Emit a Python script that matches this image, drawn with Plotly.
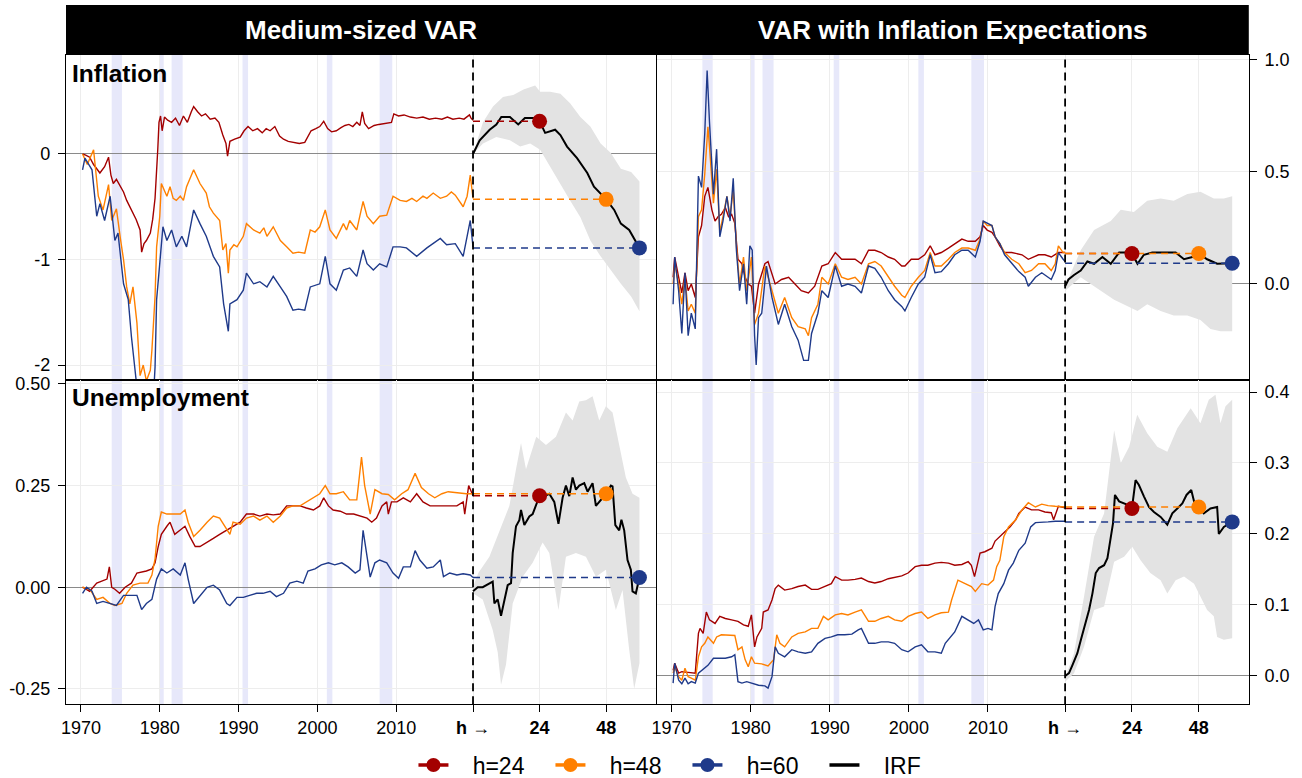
import plotly.graph_objects as go

# ---------------- axis mapping constants ----------------
T0 = 2019.75   # x position of horizon 0 (end of sample)
HS = 0.352     # x units per horizon step

# ---------------- data ----------------
RECESSIONS = [(1973.9, 1975.2), (1980.0, 1980.5), (1981.5, 1982.9),
              (1990.5, 1991.2), (2001.2, 2001.9), (2007.9, 2009.5)]

# Inflation, Medium-sized VAR  (year, value)
INF_MED_H24 = [(1970.2,0.0),(1970.6,-0.01),(1971.1,-0.03),(1971.6,-0.10),(1972.0,-0.14),(1972.4,-0.18),(1973.0,-0.12),(1973.5,-0.03),(1973.8,-0.20),(1974.1,-0.28),(1974.5,-0.24),(1974.9,-0.29),(1975.4,-0.36),(1975.8,-0.44),(1976.2,-0.50),(1976.6,-0.55),(1977.0,-0.62),(1977.5,-0.72),(1977.7,-0.93),(1978.0,-0.85),(1978.3,-0.82),(1978.8,-0.75),(1979.1,-0.62),(1979.4,-0.42),(1979.6,-0.20),(1979.75,0.05),(1979.9,0.30),(1980.1,0.36),(1980.3,0.22),(1980.6,0.35),(1981.0,0.32),(1981.5,0.30),(1982.0,0.34),(1982.5,0.27),(1983.0,0.36),(1983.5,0.30),(1984.0,0.40),(1984.3,0.45),(1984.8,0.40),(1985.3,0.36),(1985.8,0.38),(1986.4,0.33),(1987.0,0.34),(1987.5,0.30),(1988.0,0.18),(1988.4,0.10),(1988.6,-0.02),(1988.9,0.12),(1989.5,0.14),(1990.2,0.16),(1990.7,0.22),(1991.2,0.26),(1991.8,0.22),(1992.4,0.24),(1993.0,0.20),(1993.5,0.24),(1994.0,0.22),(1994.6,0.26),(1995.2,0.17),(1995.7,0.14),(1996.3,0.12),(1997.0,0.11),(1997.7,0.10),(1998.4,0.11),(1999.2,0.22),(1999.8,0.24),(2000.3,0.26),(2000.8,0.31),(2001.3,0.24),(2001.8,0.21),(2002.4,0.22),(2003.0,0.25),(2003.5,0.27),(2004.0,0.28),(2004.5,0.26),(2005.0,0.30),(2005.4,0.27),(2005.7,0.40),(2006.0,0.29),(2006.5,0.24),(2007.2,0.27),(2007.8,0.28),(2008.5,0.29),(2009.4,0.30),(2009.7,0.38),(2010.3,0.36),(2011.0,0.37),(2011.8,0.35),(2012.6,0.34),(2013.4,0.35),(2014.2,0.33),(2015.0,0.34),(2015.8,0.33),(2016.5,0.35),(2017.2,0.33),(2018.0,0.34),(2018.6,0.33),(2019.3,0.37),(2019.5,0.34),(2019.75,0.32)]
INF_MED_H48 = [(1970.2,0.0),(1970.8,-0.10),(1971.6,0.04),(1972.2,-0.40),(1972.8,-0.53),(1973.5,-0.29),(1973.9,-0.63),(1974.5,-0.52),(1975.0,-0.80),(1975.4,-1.00),(1975.8,-1.26),(1976.2,-1.42),(1976.6,-1.26),(1977.1,-1.60),(1977.5,-2.10),(1977.9,-2.00),(1978.3,-2.15),(1978.8,-2.05),(1979.0,-1.86),(1979.4,-1.35),(1979.6,-0.88),(1980.0,-0.59),(1980.2,-0.28),(1980.9,-0.40),(1981.3,-0.31),(1981.7,-0.42),(1982.1,-0.44),(1982.6,-0.40),(1983.0,-0.44),(1983.4,-0.31),(1984.3,-0.15),(1984.7,-0.22),(1985.1,-0.28),(1985.9,-0.37),(1986.3,-0.50),(1986.8,-0.56),(1987.6,-0.63),(1988.0,-0.91),(1988.4,-0.85),(1988.7,-1.13),(1988.9,-0.91),(1989.4,-0.86),(1989.8,-0.88),(1990.6,-0.78),(1991.0,-0.66),(1991.9,-0.72),(1992.7,-0.75),(1993.2,-0.70),(1993.6,-0.78),(1994.4,-0.69),(1995.3,-0.82),(1996.1,-0.88),(1996.9,-0.94),(1997.6,-0.93),(1998.4,-0.94),(1999.1,-0.72),(1999.7,-0.74),(2000.3,-0.69),(2001.0,-0.53),(2001.6,-0.72),(2002.4,-0.80),(2003.3,-0.66),(2003.7,-0.72),(2004.1,-0.63),(2005.0,-0.72),(2005.8,-0.45),(2006.3,-0.59),(2007.1,-0.66),(2007.9,-0.59),(2008.8,-0.58),(2009.6,-0.40),(2010.5,-0.44),(2011.3,-0.45),(2012.0,-0.42),(2012.6,-0.45),(2013.4,-0.40),(2013.9,-0.42),(2014.7,-0.37),(2015.6,-0.42),(2016.4,-0.40),(2017.0,-0.36),(2017.5,-0.39),(2018.5,-0.50),(2019.0,-0.40),(2019.4,-0.20),(2019.75,-0.42)]
INF_MED_H60 = [(1970.2,-0.15),(1970.5,-0.04),(1971.0,-0.10),(1971.4,-0.15),(1972.0,-0.59),(1972.4,-0.47),(1973.0,-0.63),(1973.7,-0.40),(1974.3,-0.82),(1974.7,-0.75),(1975.4,-1.23),(1976.0,-1.38),(1976.4,-1.73),(1976.9,-2.11),(1977.3,-2.35),(1978.0,-2.45),(1978.6,-2.40),(1979.2,-2.30),(1979.4,-2.02),(1979.6,-1.38),(1980.0,-1.07),(1980.4,-0.69),(1980.9,-0.82),(1981.5,-0.72),(1982.1,-0.88),(1982.8,-0.78),(1983.4,-0.88),(1984.3,-0.53),(1985.1,-0.66),(1985.9,-0.78),(1986.8,-0.97),(1987.6,-1.07),(1988.1,-1.42),(1988.7,-1.68),(1988.9,-1.42),(1989.8,-1.38),(1990.6,-1.29),(1991.0,-1.13),(1991.9,-1.23),(1992.7,-1.21),(1993.6,-1.26),(1994.4,-1.16),(1995.3,-1.26),(1996.1,-1.35),(1996.9,-1.48),(1997.6,-1.47),(1998.4,-1.48),(1999.1,-1.26),(2000.3,-1.23),(2001.0,-0.97),(2001.6,-1.23),(2002.4,-1.29),(2003.3,-1.10),(2004.1,-1.08),(2005.0,-1.16),(2005.8,-0.91),(2006.3,-1.04),(2007.1,-1.10),(2007.9,-1.04),(2008.8,-1.07),(2009.6,-0.88),(2010.5,-0.88),(2011.3,-0.89),(2012.6,-0.97),(2013.9,-0.89),(2014.7,-0.85),(2015.6,-0.80),(2016.4,-0.86),(2017.5,-0.85),(2018.5,-0.97),(2019.4,-0.63),(2019.75,-0.88)]
IRF_INF_MED_H = [0, 2.4, 6, 8.4, 10.2, 13.3, 16.3, 18.7, 21.8, 24, 26, 29.6, 31.5, 33.9, 37.5, 41.2, 43.6, 48, 50.9, 53.3, 56.3, 60]
IRF_INF_MED = [0.0, 0.13, 0.23, 0.28, 0.35, 0.35, 0.28, 0.34, 0.34, 0.31, 0.20, 0.23, 0.18, 0.07, -0.04, -0.18, -0.31, -0.43, -0.53, -0.66, -0.72, -0.89]
CI_INF_MED_UP_H = [0, 3.6, 7.2, 10.8, 14.5, 18.2, 22.4, 24.2, 27.8, 31.5, 35, 38.7, 42.3, 46, 49.7, 53.3, 57, 60]
CI_INF_MED_UP = [0.0, 0.30, 0.45, 0.54, 0.56, 0.61, 0.65, 0.59, 0.59, 0.57, 0.48, 0.35, 0.26, 0.10, 0.01, -0.14, -0.17, -0.26]
CI_INF_MED_LO_H = [0, 3.6, 8.4, 13.3, 17, 20.6, 24.2, 27.8, 31.5, 35, 38.7, 42.3, 46, 49.7, 53.3, 57, 60]
CI_INF_MED_LO = [0.0, 0.10, 0.16, 0.13, 0.07, 0.10, 0.04, -0.12, -0.28, -0.44, -0.60, -0.82, -0.97, -1.10, -1.23, -1.35, -1.49]

# Inflation, VAR with Inflation Expectations
INF_EXP_H24 = [(1970.2,0.03),(1970.4,0.12),(1970.9,0.03),(1971.3,-0.04),(1971.7,0.05),(1972.1,-0.03),(1972.5,0.0),(1973.0,-0.06),(1973.4,0.21),(1973.8,0.26),(1974.2,0.39),(1974.6,0.43),(1975.1,0.33),(1975.5,0.28),(1975.9,0.30),(1976.3,0.31),(1976.8,0.34),(1977.2,0.30),(1977.6,0.31),(1978.0,0.27),(1978.4,0.11),(1978.9,0.09),(1979.3,0.03),(1979.7,0.0),(1980.1,-0.01),(1980.5,-0.13),(1981.0,0.0),(1981.8,0.09),(1982.2,0.10),(1983.1,0.0),(1983.9,0.02),(1984.8,0.03),(1985.6,0.0),(1986.4,-0.03),(1987.3,-0.04),(1988.1,-0.01),(1989.0,0.08),(1989.8,0.09),(1990.7,0.14),(1991.5,0.11),(1992.3,0.11),(1993.2,0.11),(1994.0,0.09),(1994.9,0.15),(1995.7,0.15),(1996.5,0.14),(1997.4,0.12),(1998.2,0.11),(1999.1,0.08),(1999.5,0.08),(2000.3,0.11),(2001.2,0.11),(2002.0,0.13),(2002.7,0.17),(2003.3,0.13),(2004.1,0.14),(2005.0,0.16),(2005.8,0.18),(2006.7,0.20),(2007.5,0.19),(2008.4,0.19),(2009.0,0.21),(2009.4,0.26),(2009.9,0.24),(2010.5,0.23),(2010.9,0.21),(2011.5,0.17),(2012.1,0.14),(2013.0,0.14),(2014.3,0.13),(2015.1,0.11),(2016.4,0.13),(2017.2,0.13),(2018.0,0.12),(2018.9,0.14),(2019.5,0.14),(2019.75,0.14)]
INF_EXP_H48 = [(1970.2,0.0),(1970.4,0.09),(1970.9,0.0),(1971.3,-0.09),(1971.7,0.03),(1972.1,-0.12),(1972.5,-0.09),(1973.0,-0.13),(1973.4,0.30),(1973.8,0.33),(1974.2,0.49),(1974.6,0.70),(1974.8,0.61),(1975.3,0.36),(1975.7,0.51),(1976.1,0.23),(1976.5,0.30),(1977.0,0.39),(1977.4,0.30),(1977.8,0.42),(1978.2,0.17),(1978.6,0.0),(1979.1,0.12),(1979.5,-0.03),(1980.1,0.12),(1980.5,-0.18),(1981.0,-0.13),(1981.8,0.08),(1982.7,-0.03),(1983.5,-0.13),(1984.3,-0.06),(1985.2,-0.15),(1986.0,-0.19),(1986.9,-0.20),(1987.3,-0.23),(1987.7,-0.15),(1988.5,-0.09),(1989.0,0.03),(1989.8,0.0),(1990.7,0.09),(1991.5,0.03),(1992.3,0.02),(1993.2,0.03),(1994.0,0.0),(1994.9,0.09),(1995.7,0.10),(1996.5,0.08),(1997.4,0.03),(1998.2,-0.01),(1999.1,-0.05),(1999.5,-0.06),(2000.3,-0.01),(2001.2,0.03),(2002.0,0.06),(2002.7,0.14),(2003.3,0.08),(2004.1,0.08),(2005.0,0.11),(2005.8,0.14),(2006.7,0.16),(2007.5,0.16),(2008.4,0.15),(2009.0,0.20),(2009.4,0.28),(2009.9,0.26),(2010.5,0.26),(2010.9,0.21),(2011.5,0.18),(2012.1,0.14),(2013.0,0.11),(2013.9,0.09),(2014.7,0.05),(2015.5,0.06),(2016.4,0.09),(2017.2,0.09),(2018.0,0.06),(2018.5,0.09),(2018.9,0.17),(2019.5,0.14),(2019.75,0.14)]
INF_EXP_H60 = [(1970.2,-0.09),(1970.4,0.12),(1970.9,-0.03),(1971.3,-0.22),(1971.7,0.05),(1972.1,-0.23),(1972.5,-0.13),(1973.0,-0.20),(1973.4,0.48),(1973.8,0.43),(1974.2,0.67),(1974.5,0.95),(1974.8,0.72),(1975.3,0.40),(1975.7,0.60),(1976.1,0.21),(1976.5,0.28),(1977.0,0.39),(1977.4,0.28),(1977.8,0.47),(1978.2,0.15),(1978.6,-0.03),(1979.1,0.09),(1979.5,-0.09),(1979.9,0.17),(1980.2,0.15),(1980.5,-0.23),(1980.7,-0.36),(1981.0,-0.15),(1981.4,-0.13),(1982.0,0.08),(1982.7,-0.06),(1983.5,-0.18),(1984.3,-0.09),(1985.2,-0.19),(1986.0,-0.25),(1986.7,-0.34),(1987.3,-0.34),(1987.7,-0.22),(1988.5,-0.13),(1989.0,-0.03),(1989.8,-0.06),(1990.7,0.08),(1991.5,-0.01),(1992.3,0.0),(1993.2,-0.01),(1994.0,-0.04),(1994.9,0.08),(1995.7,0.07),(1996.5,0.03),(1997.4,-0.03),(1998.2,-0.07),(1999.1,-0.10),(1999.5,-0.12),(2000.3,-0.06),(2001.2,0.0),(2002.0,0.03),(2002.7,0.13),(2003.3,0.05),(2004.1,0.055),(2005.0,0.09),(2005.8,0.13),(2006.7,0.15),(2007.5,0.15),(2008.4,0.12),(2009.0,0.19),(2009.4,0.28),(2009.9,0.27),(2010.5,0.26),(2010.9,0.21),(2011.5,0.18),(2012.1,0.13),(2013.0,0.09),(2013.9,0.055),(2014.7,0.03),(2015.1,-0.01),(2016.0,0.03),(2016.8,0.05),(2017.6,0.03),(2018.0,0.02),(2018.5,0.06),(2018.9,0.14),(2019.5,0.11),(2019.75,0.10)]
IRF_INF_EXP_H = [0, 1.2, 3.2, 5.6, 8, 10.4, 13.4, 16.4, 19.4, 21.8, 24, 26, 28.3, 31.3, 34.3, 36.7, 39.7, 42.7, 45.7, 48, 51, 54.6, 57, 60]
IRF_INF_EXP = [-0.01, 0.02, 0.04, 0.06, 0.10, 0.09, 0.12, 0.09, 0.14, 0.14, 0.136, 0.09, 0.13, 0.14, 0.14, 0.14, 0.14, 0.11, 0.12, 0.136, 0.11, 0.09, 0.09, 0.092]
CI_INF_EXP_UP_H = [0, 5.6, 10.4, 16.4, 20, 24.7, 29.5, 34.3, 39, 43.9, 48.6, 53.4, 57, 60]
CI_INF_EXP_UP = [-0.01, 0.15, 0.24, 0.28, 0.33, 0.32, 0.37, 0.38, 0.37, 0.40, 0.41, 0.38, 0.38, 0.39]
CI_INF_EXP_LO_H = [0, 5.6, 10.4, 14, 17.6, 22.4, 26, 29.5, 34.3, 39, 43.9, 48.6, 52.2, 55.8, 60]
CI_INF_EXP_LO = [-0.03, 0.03, -0.01, -0.04, -0.07, -0.10, -0.12, -0.09, -0.12, -0.14, -0.14, -0.16, -0.20, -0.21, -0.21]

# Unemployment, Medium-sized VAR
UNE_MED_H24 = [(1970.2,0.0),(1971.1,-0.01),(1972.0,0.01),(1973.3,0.02),(1973.6,0.05),(1973.9,0.0),(1974.3,-0.005),(1974.9,-0.015),(1975.6,0.0),(1976.4,0.01),(1977.1,0.035),(1978.3,0.04),(1979.0,0.045),(1979.4,0.06),(1979.8,0.10),(1980.2,0.13),(1980.9,0.15),(1981.3,0.16),(1981.9,0.13),(1982.6,0.14),(1983.2,0.15),(1983.8,0.125),(1984.5,0.10),(1985.1,0.10),(1986.0,0.11),(1986.8,0.12),(1987.6,0.13),(1988.5,0.14),(1989.3,0.15),(1990.2,0.16),(1991.0,0.18),(1991.9,0.18),(1992.7,0.175),(1993.6,0.18),(1994.4,0.178),(1995.3,0.18),(1996.1,0.20),(1996.9,0.20),(1997.8,0.20),(1998.6,0.195),(1999.5,0.19),(2000.3,0.20),(2000.8,0.22),(2001.4,0.20),(2002.0,0.19),(2002.9,0.187),(2003.7,0.18),(2004.6,0.18),(2005.4,0.175),(2006.3,0.17),(2006.9,0.16),(2007.5,0.17),(2008.2,0.20),(2008.8,0.21),(2009.0,0.18),(2009.4,0.21),(2010.1,0.21),(2010.9,0.22),(2011.8,0.21),(2012.6,0.23),(2013.4,0.21),(2014.3,0.20),(2015.1,0.20),(2016.0,0.20),(2016.8,0.20),(2017.7,0.20),(2018.5,0.21),(2018.7,0.18),(2019.2,0.25),(2019.75,0.225)]
UNE_MED_H48 = [(1970.2,0.0),(1971.1,-0.005),(1972.0,-0.03),(1972.8,-0.025),(1973.7,-0.04),(1974.3,-0.045),(1975.2,-0.04),(1975.8,-0.015),(1976.6,0.005),(1977.5,0.01),(1978.5,0.01),(1979.0,0.03),(1979.4,0.07),(1979.8,0.15),(1980.2,0.185),(1980.9,0.18),(1981.7,0.18),(1982.6,0.18),(1983.2,0.19),(1983.6,0.16),(1984.3,0.125),(1985.1,0.14),(1986.0,0.16),(1986.8,0.175),(1987.6,0.17),(1988.5,0.14),(1988.9,0.13),(1989.3,0.16),(1990.2,0.155),(1991.0,0.17),(1991.9,0.175),(1992.7,0.165),(1993.6,0.175),(1994.4,0.16),(1995.3,0.175),(1996.1,0.195),(1996.9,0.20),(1997.8,0.20),(1998.6,0.21),(1999.5,0.22),(2000.3,0.23),(2001.0,0.25),(2001.6,0.23),(2002.4,0.23),(2003.3,0.235),(2004.1,0.215),(2005.0,0.215),(2005.6,0.32),(2006.0,0.25),(2006.7,0.18),(2007.3,0.24),(2008.2,0.23),(2009.0,0.228),(2009.8,0.215),(2010.7,0.23),(2011.5,0.24),(2012.4,0.28),(2013.2,0.245),(2014.1,0.23),(2014.9,0.22),(2015.8,0.23),(2016.6,0.235),(2017.5,0.233),(2018.3,0.233),(2018.9,0.23),(2019.75,0.23)]
UNE_MED_H60 = [(1970.2,-0.015),(1970.7,0.0),(1971.4,-0.01),(1972.0,-0.04),(1972.8,-0.035),(1973.7,-0.04),(1974.5,-0.045),(1975.4,-0.02),(1976.2,-0.02),(1977.1,-0.02),(1977.7,-0.055),(1978.3,-0.04),(1979.0,-0.03),(1979.6,0.02),(1980.2,0.045),(1980.9,0.035),(1981.7,0.045),(1982.6,0.03),(1983.2,0.06),(1983.6,0.02),(1984.3,-0.04),(1985.1,-0.02),(1986.0,0.0),(1986.8,0.005),(1987.6,-0.007),(1988.5,-0.04),(1988.9,-0.045),(1989.8,-0.025),(1990.6,-0.025),(1991.4,-0.02),(1992.3,-0.015),(1993.1,-0.015),(1994.0,-0.01),(1994.8,-0.023),(1995.7,-0.015),(1996.5,0.01),(1997.4,0.015),(1998.2,0.01),(1998.8,0.04),(1999.7,0.045),(2000.5,0.055),(2001.4,0.06),(2002.2,0.055),(2003.1,0.06),(2003.9,0.05),(2004.8,0.035),(2005.4,0.043),(2005.8,0.14),(2006.3,0.075),(2006.7,0.025),(2007.3,0.06),(2007.9,0.067),(2008.8,0.06),(2009.6,0.035),(2010.3,0.022),(2010.9,0.05),(2011.8,0.05),(2012.4,0.09),(2013.0,0.067),(2013.9,0.047),(2014.7,0.05),(2015.6,0.067),(2016.0,0.026),(2016.8,0.035),(2017.7,0.03),(2018.5,0.033),(2019.4,0.03),(2019.75,0.024)]
IRF_UNE_MED_H = [0, 1.7, 3.5, 5.9, 7.1, 7.7, 8.9, 10.1, 11.3, 12.5, 13.7, 14.3, 15.5, 16.7, 17.3, 18.5, 20.3, 21.5, 24, 25.7, 27.5, 29.3, 30.8, 32.3, 33.5, 34.7, 35.9, 37.1, 38.3, 40.1, 41.3, 43.1, 44.3, 46.1, 48, 49.7, 50.3, 51.3, 52.7, 53.5, 54.5, 55.7, 56.9, 57.5, 58.7, 60]
IRF_UNE_MED = [-0.01, 0.0, 0.0, 0.01, 0.014, -0.04, -0.03, -0.07, -0.03, 0.005, 0.01, 0.084, 0.15, 0.165, 0.19, 0.153, 0.174, 0.18, 0.225, 0.224, 0.23, 0.21, 0.156, 0.22, 0.25, 0.224, 0.27, 0.24, 0.25, 0.256, 0.235, 0.256, 0.20, 0.215, 0.23, 0.25, 0.248, 0.153, 0.14, 0.166, 0.14, 0.067, 0.043, -0.01, -0.015, 0.024]
CI_UNE_MED_UP_H = [0, 1.9, 5.9, 9.5, 13.1, 15.5, 17.3, 19.1, 22.8, 26.3, 29.9, 33.5, 35.9, 38.3, 40.7, 43.1, 45.5, 47.9, 50.3, 52.7, 55.1, 57.5, 60]
CI_UNE_MED_UP = [0.0, 0.035, 0.075, 0.14, 0.20, 0.29, 0.355, 0.29, 0.37, 0.35, 0.37, 0.43, 0.41, 0.457, 0.46, 0.47, 0.41, 0.445, 0.43, 0.35, 0.27, 0.23, 0.22]
CI_UNE_MED_LO_H = [0, 3.5, 7.1, 8.9, 10.1, 11.9, 14.3, 17.9, 21.5, 25.1, 27.5, 30.8, 33.5, 37.1, 40.7, 44.3, 47.9, 51.5, 53.9, 56.3, 58.1, 60]
CI_UNE_MED_LO = [-0.015, -0.03, -0.105, -0.16, -0.24, -0.19, -0.04, 0.026, 0.06, 0.11, 0.084, -0.056, 0.075, 0.084, 0.075, 0.026, 0.043, -0.056, -0.007, -0.154, -0.25, -0.187]

# Unemployment, VAR with Inflation Expectations
UNE_EXP_H24 = [(1970.2,0.008),(1970.4,0.018),(1970.9,0.004),(1971.3,0.006),(1972.1,0.005),(1973.0,0.004),(1973.4,0.06),(1973.6,0.067),(1974.0,0.06),(1974.4,0.09),(1974.8,0.079),(1975.5,0.074),(1976.1,0.084),(1976.8,0.081),(1977.6,0.079),(1978.4,0.077),(1979.1,0.072),(1979.7,0.07),(1980.1,0.086),(1980.5,0.041),(1980.8,0.055),(1981.4,0.067),(1981.6,0.09),(1982.2,0.093),(1982.7,0.107),(1983.1,0.123),(1983.5,0.128),(1984.3,0.121),(1985.2,0.123),(1986.0,0.126),(1986.9,0.128),(1987.7,0.122),(1988.5,0.122),(1989.4,0.126),(1990.2,0.13),(1990.7,0.14),(1991.5,0.135),(1992.3,0.135),(1993.2,0.136),(1994.0,0.138),(1994.9,0.133),(1995.7,0.131),(1996.5,0.133),(1997.4,0.137),(1998.2,0.139),(1999.1,0.141),(1999.9,0.145),(2000.8,0.154),(2001.6,0.156),(2002.4,0.156),(2003.3,0.159),(2004.1,0.160),(2005.0,0.159),(2005.8,0.156),(2006.7,0.157),(2007.5,0.161),(2007.9,0.156),(2008.3,0.14),(2008.6,0.154),(2009.0,0.173),(2009.6,0.175),(2010.5,0.18),(2010.9,0.19),(2011.8,0.20),(2012.4,0.206),(2012.8,0.21),(2013.5,0.22),(2013.9,0.229),(2014.7,0.238),(2015.5,0.234),(2016.4,0.234),(2017.2,0.231),(2018.0,0.230),(2018.3,0.22),(2018.9,0.239),(2019.5,0.238),(2019.75,0.237)]
UNE_EXP_H48 = [(1970.2,0.004),(1970.4,0.013),(1970.9,-0.001),(1971.3,-0.006),(1971.7,0.011),(1972.1,-0.001),(1972.5,-0.003),(1973.0,-0.006),(1973.4,0.027),(1973.8,0.041),(1974.2,0.046),(1974.6,0.055),(1975.3,0.046),(1975.7,0.055),(1976.3,0.058),(1977.2,0.058),(1978.0,0.057),(1978.4,0.037),(1978.9,0.041),(1979.3,0.023),(1979.7,0.013),(1980.1,0.027),(1980.5,0.018),(1981.4,0.017),(1982.2,0.014),(1982.9,0.023),(1983.3,0.058),(1983.7,0.046),(1984.3,0.041),(1985.2,0.055),(1986.0,0.06),(1986.9,0.062),(1987.7,0.067),(1988.5,0.067),(1989.2,0.084),(1989.8,0.079),(1990.7,0.086),(1991.5,0.088),(1992.3,0.086),(1993.2,0.09),(1994.0,0.093),(1994.9,0.077),(1995.7,0.077),(1996.5,0.081),(1997.4,0.084),(1998.2,0.079),(1999.1,0.077),(1999.9,0.084),(2000.8,0.088),(2001.6,0.09),(2002.4,0.081),(2003.3,0.086),(2004.1,0.089),(2005.0,0.09),(2005.4,0.107),(2006.2,0.135),(2007.1,0.13),(2007.9,0.126),(2008.4,0.119),(2009.2,0.13),(2010.0,0.128),(2010.7,0.135),(2011.1,0.154),(2011.5,0.163),(2012.0,0.196),(2012.6,0.21),(2013.5,0.22),(2014.3,0.234),(2015.1,0.244),(2016.0,0.238),(2016.8,0.242),(2017.6,0.240),(2018.5,0.239),(2019.5,0.238),(2019.75,0.238)]
UNE_EXP_H60 = [(1970.2,-0.01),(1970.4,0.018),(1970.9,-0.006),(1971.3,-0.011),(1971.7,-0.003),(1972.1,-0.011),(1972.5,-0.008),(1973.0,-0.01),(1973.4,0.004),(1973.8,0.008),(1974.6,0.015),(1975.3,0.025),(1975.9,0.025),(1976.8,0.025),(1977.6,0.027),(1978.0,0.03),(1978.4,-0.008),(1978.9,-0.01),(1979.5,-0.008),(1980.1,-0.01),(1981.0,-0.013),(1981.8,-0.014),(1982.2,-0.017),(1982.7,-0.001),(1983.1,0.041),(1983.5,0.032),(1984.3,0.027),(1985.2,0.037),(1986.0,0.034),(1986.9,0.032),(1987.7,0.034),(1988.5,0.046),(1989.4,0.053),(1990.2,0.055),(1991.0,0.058),(1991.9,0.058),(1992.8,0.059),(1993.6,0.065),(1994.0,0.067),(1994.9,0.046),(1995.7,0.046),(1996.5,0.048),(1997.4,0.048),(1998.2,0.046),(1999.1,0.037),(1999.9,0.034),(2000.8,0.041),(2001.6,0.044),(2002.4,0.034),(2003.3,0.034),(2004.1,0.032),(2004.6,0.046),(2005.0,0.051),(2005.8,0.062),(2006.7,0.084),(2007.5,0.079),(2008.2,0.074),(2008.8,0.079),(2009.4,0.065),(2010.0,0.067),(2010.5,0.065),(2010.9,0.098),(2011.3,0.116),(2012.0,0.13),(2012.6,0.149),(2013.2,0.159),(2013.9,0.177),(2014.7,0.187),(2015.4,0.21),(2016.0,0.216),(2016.8,0.217),(2017.6,0.217),(2018.5,0.218),(2019.5,0.218),(2019.75,0.218)]
IRF_UNE_EXP_H = [0, 1.4, 2.6, 4.4, 5.6, 7.4, 8.6, 9.8, 11, 12.2, 14, 15.2, 16.4, 17.2, 17.9, 19.4, 21.8, 24, 25.3, 26.5, 28.3, 30.1, 31.9, 34.3, 36.7, 38.5, 40.3, 42.1, 43.6, 45.3, 46.8, 48, 49.8, 52.2, 54.6, 55.2, 57, 60]
IRF_UNE_EXP = [0.0, 0.004, 0.015, 0.032, 0.05, 0.074, 0.093, 0.116, 0.145, 0.152, 0.156, 0.166, 0.2, 0.215, 0.255, 0.246, 0.242, 0.236, 0.276, 0.269, 0.253, 0.238, 0.231, 0.224, 0.213, 0.229, 0.236, 0.243, 0.255, 0.262, 0.238, 0.238, 0.229, 0.236, 0.238, 0.2, 0.21, 0.217]
CI_UNE_EXP_UP_H = [0, 3.2, 6.8, 10.4, 14, 17.6, 20, 23, 25.9, 29.5, 33.1, 36.7, 40.3, 45.1, 48.6, 51.6, 54, 55.8, 57.6, 60]
CI_UNE_EXP_UP = [-0.003, 0.032, 0.112, 0.196, 0.229, 0.346, 0.30, 0.323, 0.368, 0.342, 0.323, 0.316, 0.349, 0.377, 0.356, 0.389, 0.396, 0.356, 0.38, 0.389]
CI_UNE_EXP_LO_H = [0, 3.2, 6.8, 10.4, 14, 17.6, 21.2, 24.1, 27.1, 30.6, 34.3, 36.7, 39.7, 42.7, 46.3, 48.6, 51, 53.4, 54.6, 57, 60]
CI_UNE_EXP_LO = [-0.008, 0.004, 0.041, 0.093, 0.098, 0.161, 0.168, 0.182, 0.163, 0.145, 0.135, 0.116, 0.135, 0.14, 0.13, 0.112, 0.093, 0.084, 0.055, 0.051, 0.053]

HORIZONS = [24, 48, 60]
SERIES_NAMES = ["h=24", "h=48", "h=60"]
X_TICK_YEARS = [1970, 1980, 1990, 2000, 2010]
X_TICK_H = [0, 24, 48]
X_TICK_H_TEXT = ["<b>h</b> \u2192", "<b>24</b>", "<b>48</b>"]

# ---------------- styling ----------------
COLORS = ["#A30000", "#FF8000", "#1F3A8A"]
FONT = "Liberation Sans, Arial, Helvetica, sans-serif"
BAND_COLOR = "#E7E8FA"
CI_COLOR = "#E3E3E3"
GRID = "#EDEDED"
NB = "\u00a0\u00a0\u00a0"

panels = [
    ("x", "y", [INF_MED_H24, INF_MED_H48, INF_MED_H60], IRF_INF_MED_H, IRF_INF_MED,
     CI_INF_MED_UP_H, CI_INF_MED_UP, CI_INF_MED_LO_H, CI_INF_MED_LO),
    ("x2", "y2", [INF_EXP_H24, INF_EXP_H48, INF_EXP_H60], IRF_INF_EXP_H, IRF_INF_EXP,
     CI_INF_EXP_UP_H, CI_INF_EXP_UP, CI_INF_EXP_LO_H, CI_INF_EXP_LO),
    ("x3", "y3", [UNE_MED_H24, UNE_MED_H48, UNE_MED_H60], IRF_UNE_MED_H, IRF_UNE_MED,
     CI_UNE_MED_UP_H, CI_UNE_MED_UP, CI_UNE_MED_LO_H, CI_UNE_MED_LO),
    ("x4", "y4", [UNE_EXP_H24, UNE_EXP_H48, UNE_EXP_H60], IRF_UNE_EXP_H, IRF_UNE_EXP,
     CI_UNE_EXP_UP_H, CI_UNE_EXP_UP, CI_UNE_EXP_LO_H, CI_UNE_EXP_LO),
]


def hx(h):
    return T0 + h * HS


fig = go.Figure()
shapes = []

for xa, ya, series, irf_h, irf, up_h, up, lo_h, lo in panels:
    for a, b in RECESSIONS:
        shapes.append(dict(type="rect", xref=xa, yref=ya + " domain", x0=a, x1=b, y0=0, y1=1,
                           fillcolor=BAND_COLOR, line=dict(width=0), layer="below"))
    bx = [hx(h) for h in up_h] + [hx(h) for h in reversed(lo_h)]
    by = list(up) + list(reversed(lo))
    fig.add_trace(go.Scatter(x=bx, y=by, xaxis=xa, yaxis=ya, fill="toself", fillcolor=CI_COLOR,
                             line=dict(width=0), mode="lines", hoverinfo="skip", showlegend=False))
    for s, col in zip(series, COLORS):
        xs = [p[0] for p in s]
        ys = [p[1] for p in s]
        fig.add_trace(go.Scatter(x=xs, y=ys, xaxis=xa, yaxis=ya, mode="lines",
                                 line=dict(color=col, width=1.4), showlegend=False))
    fig.add_trace(go.Scatter(x=[hx(h) for h in irf_h], y=irf, xaxis=xa, yaxis=ya, mode="lines",
                             line=dict(color="black", width=2), showlegend=False))
    for h, col in zip(HORIZONS, COLORS):
        v = irf[irf_h.index(h)]
        fig.add_trace(go.Scatter(x=[hx(0), hx(h)], y=[v, v], xaxis=xa, yaxis=ya, mode="lines",
                                 line=dict(color=col, width=1.5, dash="7px,5px"), showlegend=False))
    for h, col in zip(HORIZONS, COLORS):
        v = irf[irf_h.index(h)]
        fig.add_trace(go.Scatter(x=[hx(h)], y=[v], xaxis=xa, yaxis=ya, mode="markers",
                                 marker=dict(color=col, size=15), showlegend=False, cliponaxis=False))
    shapes.append(dict(type="line", xref=xa, yref=ya + " domain", x0=hx(0), x1=hx(0), y0=0, y1=1,
                       line=dict(color="black", width=1.8, dash="8px,5px"), layer="above"))

for name, col in zip(SERIES_NAMES, COLORS):
    fig.add_trace(go.Scatter(x=[None], y=[None], mode="lines+markers", name=NB + name,
                             line=dict(color=col, width=3.5), marker=dict(color=col, size=14)))
fig.add_trace(go.Scatter(x=[None], y=[None], mode="lines", name=NB + "IRF",
                         line=dict(color="black", width=3.5)))

Y_TOP = 1 - 55 / 778
shapes.append(dict(type="rect", xref="paper", yref="paper", x0=66 / 1302, x1=1248.8 / 1302,
                   y0=Y_TOP, y1=1 - 5 / 778, fillcolor="black", line=dict(width=0), layer="above"))

XT_VALS = X_TICK_YEARS + [hx(h) for h in X_TICK_H]
XT_TEXT = [str(y) for y in X_TICK_YEARS] + X_TICK_H_TEXT
XR = [1968.1, 2042.97]
XD_L = [66 / 1302, 656 / 1302]
XD_R = [656.5 / 1302, 1248.8 / 1302]
YD_T = [1 - 379.5 / 778, Y_TOP]
YD_B = [1 - 704.3 / 778, 1 - 379.5 / 778]
TICKFONT = dict(size=18, color="black", family=FONT)


def xaxis(domain, anchor, bottom):
    return dict(domain=domain, anchor=anchor, range=XR, tickvals=XT_VALS, ticktext=XT_TEXT,
                automargin=False, showgrid=True, gridcolor=GRID, gridwidth=1, zeroline=False,
                showline=True, mirror=True, linecolor="black", linewidth=1.3,
                ticks="outside" if bottom else "", ticklen=7, tickcolor="black", tickwidth=1.3,
                showticklabels=bottom, tickfont=TICKFONT)


def yaxis(domain, anchor, rng, vals, text, side):
    return dict(domain=domain, anchor=anchor, range=rng, tickvals=vals, ticktext=text, side=side,
                automargin=False, showgrid=True, gridcolor=GRID, gridwidth=1, zeroline=True,
                zerolinecolor="#8A8A8A", zerolinewidth=1, showline=True, mirror=True,
                linecolor="black", linewidth=1.3, ticks="outside", ticklen=7, tickcolor="black",
                tickwidth=1.3, tickfont=TICKFONT, ticklabelstandoff=4)


fig.update_layout(
    width=1302, height=778, margin=dict(l=0, r=0, t=0, b=0, autoexpand=False),
    paper_bgcolor="white", plot_bgcolor="white",
    font=dict(family=FONT, color="black"),
    xaxis=xaxis(XD_L, "y", False),
    xaxis2=xaxis(XD_R, "y2", False),
    xaxis3=xaxis(XD_L, "y3", True),
    xaxis4=xaxis(XD_R, "y4", True),
    yaxis=yaxis(YD_T, "x", [-2.137, 0.938], [-2, -1, 0], ["-2", "-1", "0"], "left"),
    yaxis2=yaxis(YD_T, "x2", [-0.425, 1.019], [0, 0.5, 1.0], ["0.0", "0.5", "1.0"], "right"),
    yaxis3=yaxis(YD_B, "x3", [-0.288, 0.511], [-0.25, 0, 0.25, 0.5], ["-0.25", "0.00", "0.25", "0.50"], "left"),
    yaxis4=yaxis(YD_B, "x4", [-0.0399, 0.4176], [0, 0.1, 0.2, 0.3, 0.4], ["0.0", "0.1", "0.2", "0.3", "0.4"], "right"),
    shapes=shapes,
    showlegend=True,
    legend=dict(orientation="h", x=0.528, xanchor="center", y=1 - 765 / 778, yanchor="middle",
                font=dict(size=23, family=FONT, color="black"), bgcolor="rgba(0,0,0,0)",
                entrywidth=92, entrywidthmode="pixels"),
    annotations=[
        dict(text="<b>Medium-sized VAR</b>", x=361 / 1302, y=1 - 30 / 778, xref="paper", yref="paper",
             showarrow=False, xanchor="center", yanchor="middle", font=dict(size=26, color="white", family=FONT)),
        dict(text="<b>VAR with Inflation Expectations</b>", x=952.6 / 1302, y=1 - 30 / 778, xref="paper",
             yref="paper", showarrow=False, xanchor="center", yanchor="middle",
             font=dict(size=26, color="white", family=FONT)),
        dict(text="<b>Inflation</b>", x=70 / 1302, y=1 - 58 / 778, xref="paper", yref="paper",
             showarrow=False, xanchor="left", yanchor="top", font=dict(size=24.5, color="black", family=FONT)),
        dict(text="<b>Unemployment</b>", x=70 / 1302, y=1 - 382 / 778, xref="paper", yref="paper",
             showarrow=False, xanchor="left", yanchor="top", font=dict(size=24.5, color="black", family=FONT)),
    ],
)

fig.write_html("out.html", config={"displayModeBar": False},
               post_script="document.body.style.margin='0px';document.body.style.overflow='hidden';")
